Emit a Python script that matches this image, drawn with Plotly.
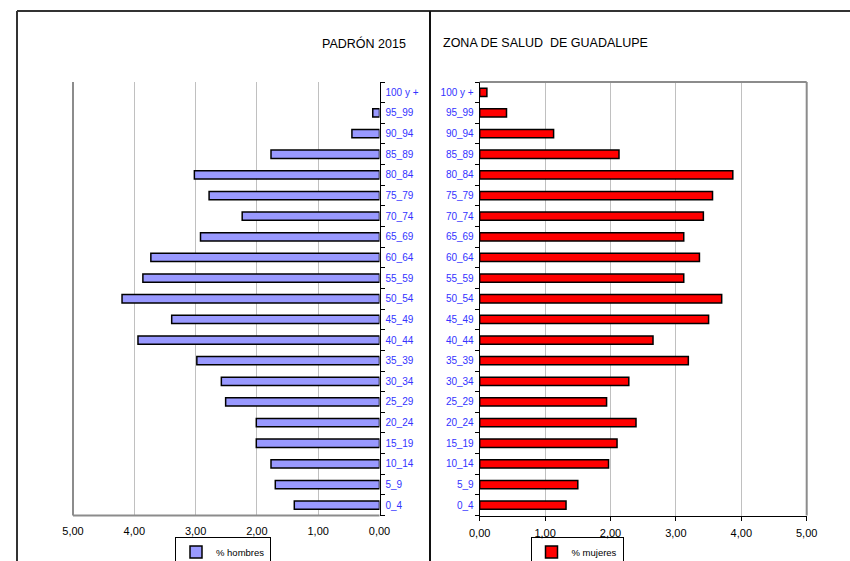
import plotly.graph_objects as go

# ---- data ----
age_groups = ["0_4", "5_9", "10_14", "15_19", "20_24", "25_29", "30_34", "35_39",
              "40_44", "45_49", "50_54", "55_59", "60_64", "65_69", "70_74", "75_79",
              "80_84", "85_89", "90_94", "95_99", "100 y +"]
hombres = [1.39, 1.70, 1.77, 2.01, 2.01, 2.51, 2.58, 2.98, 3.94, 3.39, 4.20, 3.86,
           3.73, 2.92, 2.24, 2.78, 3.02, 1.77, 0.45, 0.11, 0.0]
mujeres = [1.32, 1.50, 1.97, 2.10, 2.39, 1.94, 2.28, 3.19, 2.65, 3.50, 3.70, 3.12,
           3.36, 3.12, 3.42, 3.56, 3.87, 2.13, 1.13, 0.41, 0.11]
x_ticks = [0, 1, 2, 3, 4, 5]
title_left = "PADRÓN 2015"
title_right = "ZONA DE SALUD\u00a0 DE GUADALUPE"

W, H = 850, 561
FONT = "Liberation Sans, Arial, sans-serif"
LABEL_BLUE = "#3333ff"
GRID = "#c0c0c0"
FRAME_GRAY = "#8c8c8c"

def px_x(v):
    return v / W

def px_y(v):
    return (H - v) / H

left_dom = [px_x(73), px_x(379.5)]
right_dom = [px_x(479.7), px_x(806.7)]
y_dom = [px_y(515.5), px_y(82)]

# zero-valued bars get no outline (nothing is drawn for them in the original)
h_line_w = [1.5 if v > 0 else 0 for v in hombres]
m_line_w = [1.5 if v > 0 else 0 for v in mujeres]

fig = go.Figure()
fig.add_trace(go.Bar(
    y=age_groups, x=hombres, orientation="h", name="% hombres",
    xaxis="x", yaxis="y", legend="legend", showlegend=True,
    marker=dict(color="#9999ff", line=dict(color="#000000", width=h_line_w)),
))
fig.add_trace(go.Bar(
    y=age_groups, x=mujeres, orientation="h", name="% mujeres",
    xaxis="x2", yaxis="y2", legend="legend2", showlegend=True,
    marker=dict(color="#ff0000", line=dict(color="#000000", width=m_line_w)),
))

cat_axis = dict(
    type="category", categoryorder="array", categoryarray=age_groups,
    range=[-0.5, len(age_groups) - 0.5],
    tickson="boundaries", ticks="outside", ticklen=4, tickcolor="#000000",
    tickwidth=1, ticklabelstandoff=3,
    showline=True, linecolor="#000000", linewidth=1,
    showgrid=False, zeroline=False, automargin=False,
    tickfont=dict(family=FONT, size=10, color=LABEL_BLUE),
    fixedrange=True,
)

legend_common = dict(
    xref="paper", yref="paper",
    xanchor="center", yanchor="middle", y=px_y(552),
    bordercolor="#000000", borderwidth=1, bgcolor="rgba(255,255,255,0)",
    font=dict(family=FONT, size=9.5, color="#000000"),
    itemwidth=30, tracegroupgap=0, visible=True,
)

fig.update_layout(
    template="none",
    width=W, height=H, autosize=False,
    margin=dict(l=0, r=0, t=0, b=0, pad=0, autoexpand=False),
    paper_bgcolor="white", plot_bgcolor="white",
    separators=",.",
    bargap=0.6,
    showlegend=True,
    font=dict(family=FONT, color="#000000"),
    xaxis=dict(
        domain=left_dom, anchor="y", range=[5, 0], automargin=False,
        tickmode="array", tickvals=x_ticks, tickformat=".2f",
        showgrid=True, gridcolor=GRID, gridwidth=1,
        zeroline=False, showline=False, ticks="", ticklabelstandoff=7,
        tickfont=dict(family=FONT, size=11, color="#000000"),
        fixedrange=True,
    ),
    xaxis3=dict(
        overlaying="x", anchor="y", side="top", range=[5, 0], automargin=False,
        tickmode="array", tickvals=x_ticks,
        ticks="outside", ticklen=4, tickcolor="#000000", tickwidth=1,
        showline=True, linecolor="#000000", linewidth=1,
        showticklabels=False, showgrid=False, zeroline=False,
        fixedrange=True,
    ),
    yaxis=dict(domain=y_dom, anchor="x", side="right", **cat_axis),
    xaxis2=dict(
        domain=right_dom, anchor="y2", range=[0, 5], automargin=False,
        tickmode="array", tickvals=x_ticks, tickformat=".2f",
        showgrid=True, gridcolor=GRID, gridwidth=1,
        zeroline=False, showline=True, linecolor="#000000", linewidth=1,
        ticks="outside", ticklen=4, tickcolor="#000000", tickwidth=1,
        ticklabelstandoff=3,
        tickfont=dict(family=FONT, size=11, color="#000000"),
        fixedrange=True,
    ),
    yaxis2=dict(domain=y_dom, anchor="x2", side="left", **cat_axis),
    legend=dict(x=px_x(223), **legend_common),
    legend2=dict(x=px_x(577), **legend_common),
    annotations=[
        dict(text=title_left, xref="paper", yref="paper",
             x=px_x(408), y=px_y(43), xanchor="right", yanchor="middle",
             showarrow=False, font=dict(family=FONT, size=12.5, color="#000000")),
        dict(text=title_right, xref="paper", yref="paper",
             x=px_x(440.5), y=px_y(43), xanchor="left", yanchor="middle",
             showarrow=False, font=dict(family=FONT, size=12.5, color="#000000")),
    ],
    shapes=[
        # outer frame
        dict(type="line", xref="paper", yref="paper", x0=px_x(17), x1=1.0,
             y0=px_y(11), y1=px_y(11), line=dict(color="#333333", width=2)),
        dict(type="line", xref="paper", yref="paper", x0=px_x(17), x1=px_x(17),
             y0=px_y(11), y1=0, line=dict(color="#333333", width=2)),
        dict(type="line", xref="paper", yref="paper", x0=px_x(430), x1=px_x(430),
             y0=px_y(11), y1=0, line=dict(color="#111111", width=2)),
        # gray plot-area borders, left panel (left and bottom)
        dict(type="line", xref="x domain", yref="y domain", x0=0, x1=0, y0=0, y1=1,
             line=dict(color=FRAME_GRAY, width=2), layer="above"),
        dict(type="line", xref="x domain", yref="y domain", x0=0, x1=1, y0=0, y1=0,
             line=dict(color=FRAME_GRAY, width=2), layer="above"),
        # gray plot-area borders, right panel (top and right)
        dict(type="line", xref="x2 domain", yref="y2 domain", x0=0, x1=1, y0=1, y1=1,
             line=dict(color=FRAME_GRAY, width=2), layer="above"),
        dict(type="line", xref="x2 domain", yref="y2 domain", x0=1, x1=1, y0=0, y1=1,
             line=dict(color=FRAME_GRAY, width=2), layer="above"),
    ],
)

fig.write_html(
    "out.html",
    config={"responsive": False, "displayModeBar": False},
    post_script="document.body.style.margin='0';document.body.style.overflow='hidden';",
)
